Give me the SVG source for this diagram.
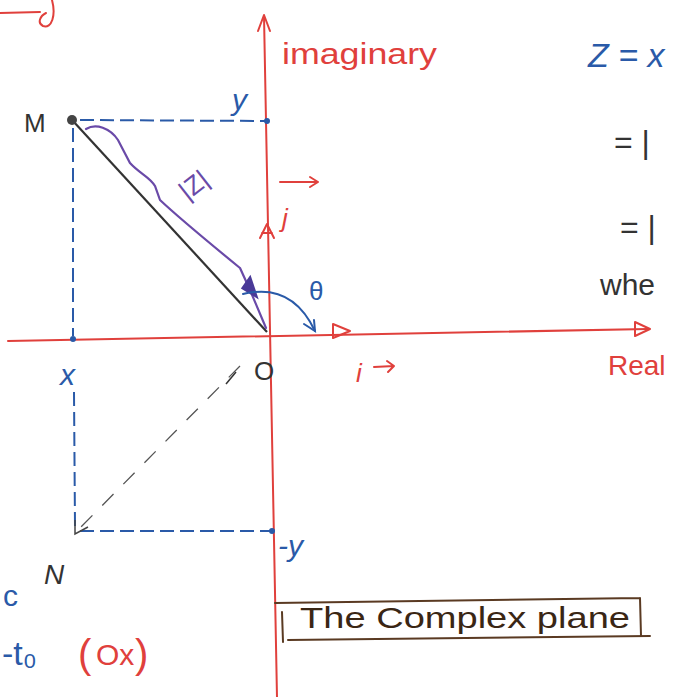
<svg xmlns="http://www.w3.org/2000/svg" width="678" height="697" viewBox="0 0 678 697">
<style>
.red{stroke:#e0403c;fill:none;stroke-width:2;stroke-linecap:round;stroke-linejoin:round}
.blue{stroke:#2a5aa8;fill:none;stroke-width:2;stroke-linecap:round}
.bdash{stroke:#2a5aa8;fill:none;stroke-width:2;stroke-dasharray:14 6}
.gdash{stroke:#555;fill:none;stroke-width:1.3;stroke-dasharray:16 14}
.brown{stroke:#5a3a22;fill:none;stroke-width:2;stroke-linecap:round}
text{font-family:"Liberation Sans","DejaVu Sans",sans-serif}
.tr{fill:#e0403c}
.tb{fill:#2a5aa8}
.tk{fill:#333}
.tp{fill:#6a4aa8}
</style>
<rect width="678" height="697" fill="#ffffff"/>

<g id="axes">
  <line class="red" x1="264" y1="16" x2="277" y2="697"/>
  <path class="red" d="M258,31 L264,15 L270,31"/>
  <line class="red" x1="8" y1="341" x2="648" y2="329"/>
  <path class="red" d="M635,322 L650,329 L635,336 Z"/>
  <path class="red" d="M333,324 L350,331 L333,338 Z"/>
  <path class="red" d="M260,238 L267,224 L274,238 M262,233 L272,233"/>
</g>

<g id="connectors">
  <line class="bdash" x1="80" y1="120" x2="266" y2="121"/>
  <line class="bdash" x1="73" y1="128" x2="73" y2="336"/>
  <line class="bdash" x1="74" y1="392" x2="75" y2="526"/>
  <line class="bdash" x1="80" y1="531" x2="270" y2="531"/>
  <line x1="73" y1="121" x2="267" y2="332" stroke="#333" stroke-width="2.2"/>
  <line class="gdash" x1="240" y1="366" x2="80" y2="528"/>
  <line x1="236" y1="372" x2="226" y2="384" stroke="#333" stroke-width="1.5"/>
  <path d="M86,129 C96,123 110,128 118,140 L130,163 C140,174 150,177 155,186 L160,200 C178,217 218,250 240,268 L250,290 L266,328" stroke="#6a4aa8" stroke-width="2.2" fill="none" stroke-linecap="round"/>
  <path d="M243,288 L250,278 L256,296 Z" stroke="#4a3a98" stroke-width="3" fill="#4a3a98"/>
  <path class="blue" d="M243,294 Q292,282 315,331"/>
  <path class="blue" d="M304,324 L315,331 L314,320"/>
</g>

<g id="point-M">
  <circle cx="72" cy="120" r="5" fill="#444"/>
  <text class="tk" x="24" y="132" font-size="26">M</text>
</g>
<g id="point-y">
  <circle cx="267" cy="121" r="3" fill="#2a5aa8"/>
  <text class="tb" x="232" y="110" font-size="30" font-style="italic">y</text>
</g>
<g id="point-x">
  <circle cx="73" cy="339" r="3" fill="#2a5aa8"/>
  <text class="tb" x="60" y="385" font-size="30" font-style="italic">x</text>
</g>
<g id="point-O">
  <text class="tk" x="254" y="380" font-size="26">O</text>
</g>
<g id="point-N">
  <path d="M75,520 L75,534 L88,527" stroke="#444" stroke-width="1.5" fill="none"/>
  <text class="tk" x="44" y="584" font-size="28" font-style="italic">N</text>
</g>
<g id="point-minus-y">
  <circle cx="272" cy="531" r="3" fill="#2a5aa8"/>
  <text class="tb" x="278" y="556" font-size="30" font-style="italic">-y</text>
</g>

<g id="labels">
  <text class="tr" x="282" y="64" font-size="29" textLength="155" lengthAdjust="spacingAndGlyphs">imaginary</text>
  <text class="tr" x="608" y="375" font-size="28">Real</text>
  <text class="tr" x="282" y="227" font-size="26" font-style="italic">j</text>
  <path class="red" d="M280,182 L318,182 M310,177 L318,182 L310,187" stroke-width="1.6"/>
  <text class="tr" x="356" y="382" font-size="26" font-style="italic">i</text>
  <path class="red" d="M374,367 L394,366 M387,361 L394,366 L388,372" stroke-width="1.6"/>
  <text class="tb" x="309" y="300" font-size="26" font-family="DejaVu Sans, sans-serif">θ</text>
  <text class="tp" x="193" y="194" font-size="26" transform="rotate(-38 193 184)" text-anchor="middle">|Z|</text>
  <text class="tb" x="588" y="67" font-size="34" font-style="italic">Z = x</text>
  <text class="tk" x="614" y="153" font-size="32">= |</text>
  <text class="tk" x="620" y="238" font-size="32">= |</text>
  <text class="tk" x="600" y="295" font-size="30">whe</text>
  <path class="red" d="M0,13 L40,12 M52,0 C56,15 52,29 43,26 C37,23 40,16 46,13"/>
  <text class="tb" x="3" y="606" font-size="30">c</text>
  <text class="tb" x="2" y="665" font-size="34">-t₀</text>
  <text class="tr" x="78" y="668" font-size="40">(</text>
  <text class="tr" x="96" y="665" font-size="30">Ox</text>
  <text class="tr" x="135" y="668" font-size="40">)</text>
</g>

<g id="title-box">
  <path class="brown" d="M275,603 L640,598 M288,640 L650,636 M282,612 L283,642 M640,598 L641,636"/>
  <text x="300" y="628" font-size="30" fill="#3a2614" textLength="330" lengthAdjust="spacingAndGlyphs">The Complex plane</text>
</g>
</svg>
